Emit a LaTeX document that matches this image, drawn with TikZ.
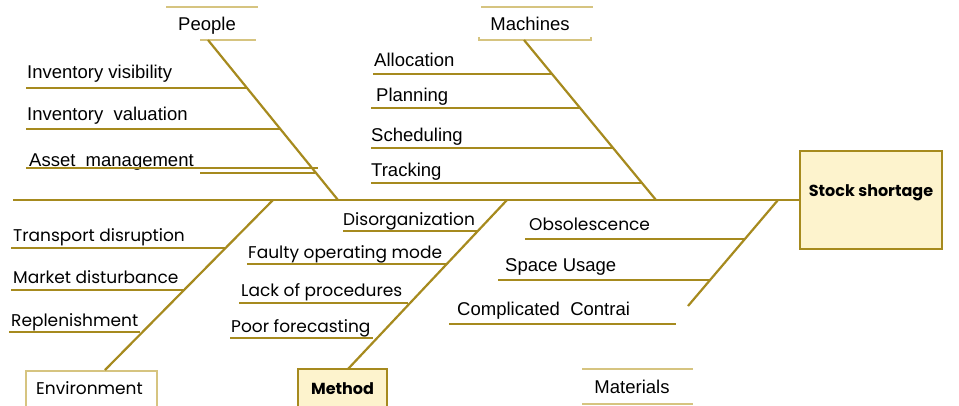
\documentclass[tikz,border=0pt]{standalone}
\usepackage{fontspec}
\setmainfont{Liberation Sans}
\newfontfamily\gothic{Poppins}
\usetikzlibrary{positioning}

\definecolor{bonecol}{RGB}{166,138,30}
\definecolor{paleline}{RGB}{214,196,128}
\definecolor{boxfill}{RGB}{253,243,205}

\tikzset{
  bone/.style={draw=bonecol, line width=2.2pt},
  twigline/.style={draw=bonecol, line width=1.6pt},
  capline/.style={draw=paleline, line width=1.6pt},
  arialtxt/.style={font=\fontsize{18.5}{20}\selectfont, inner sep=0pt},
  gothtxt/.style={font=\gothic\fontsize{17}{20}\selectfont, inner sep=0pt},
  headbox/.style={draw=bonecol, line width=1.4pt, fill=boxfill, inner sep=0pt},
}

% name, text x, baseline, line x, line y, line end x, text
\newcommand{\twig}[8][arialtxt]{%
  \node[#1, anchor=base west] (#2) at (#3,#4) {#8};
  \coordinate (#2-l) at (#5,#6);
  \coordinate (#2-r) at (#7,#6);
  \draw[twigline] (#2-l) -- (#2-r);
}

\begin{document}
\begin{tikzpicture}[x=1pt, y=-1pt]
  \useasboundingbox (0,0) rectangle (959,405);

  % head and categories
  \node[headbox, font=\gothic\bfseries\fontsize{16}{18}\selectfont,
        minimum width=142pt, minimum height=98pt,
        text height=13pt, text depth=20pt] (effect) at (871,200) {Stock shortage};
  \node[arialtxt, anchor=base] (people) at (207,30) {People};
  \node[arialtxt, anchor=base] (machines) at (530,30) {Machines};
  \node[gothtxt, anchor=base] (environment) at (89.5,394) {Environment};
  \node[headbox, font=\gothic\bfseries\fontsize{16}{18}\selectfont,
        minimum width=89pt, minimum height=40pt] (method) at (342.5,389) {Method};
  \node[arialtxt, anchor=base] (materials) at (632,393) {Materials};

  \draw[capline] (166,7) -- (258,7) (200,40) -- (256,40);
  \draw[capline] (481,7) -- (593,7) (479,37) -- (479,40) -- (591,40) -- (591,37);
  \draw[capline] (26,410) -- (26,371) -- (157,371) -- (157,410);
  \draw[capline] (582,369) -- (693,369) (582,404) -- (693,404);

  % spine and bones
  \coordinate (tail) at (13,200);
  \coordinate (people-a) at (208,40);
  \coordinate (people-b) at (338,200);
  \coordinate (machines-a) at (524,40);
  \coordinate (machines-b) at (656,200);
  \coordinate (environment-a) at (105,370);
  \coordinate (environment-b) at (273,200);
  \coordinate (method-a) at (348,369);
  \coordinate (method-b) at (507,200);
  \coordinate (materials-a) at (688,306);
  \coordinate (materials-b) at (778,200);

  \draw[bone] (tail) -- (effect);
  \draw[bone]
    (people-a) -- (people-b)
    (machines-a) -- (machines-b)
    (environment-a) -- (environment-b)
    (method-a) -- (method-b)
    (materials-a) -- (materials-b)
    ;

  % causes
  \twig{invvis}{27}{78}{26}{88}{247}{Inventory visibility}
  \twig{invval}{27}{120}{26}{129}{280}{Inventory\ \ valuation}
  \twig{asset}{29}{166}{26}{168}{318}{Asset\ \ management}
  \coordinate (asset-l2) at (200,173);
  \coordinate (asset-r2) at (315,173);
  \draw[twigline] (asset-l2) -- (asset-r2);

  \twig{alloc}{374}{66}{373}{74}{552}{Allocation}
  \twig{plan}{376}{101}{371}{108}{580}{Planning}
  \twig{sched}{371}{141}{371}{148}{613}{Scheduling}
  \twig{track}{371}{176}{371}{183}{642}{Tracking}

  \twig[gothtxt]{transp}{13}{241}{11}{248}{226}{Transport disruption}
  \twig[gothtxt]{market}{13}{283}{11}{290}{184}{Market disturbance}
  \twig[gothtxt]{replen}{11}{326}{9}{332}{140}{Replenishment}

  \twig[gothtxt]{disorg}{343}{225}{343}{231}{478}{Disorganization}
  \twig[gothtxt]{faulty}{248}{258}{247}{264}{447}{Faulty operating mode}
  \twig[gothtxt]{lack}{241}{296}{239}{303}{408}{Lack of procedures}
  \twig[gothtxt]{poor}{231}{332}{230}{338}{373}{Poor forecasting}

  \twig[gothtxt]{obsol}{529}{230}{525}{239}{745}{Obsolescence}
  \twig{space}{505}{271}{498}{280}{710}{Space Usage}
  \twig{compl}{457}{315}{449}{324}{676}{Complicated\ \ Contrai}
\end{tikzpicture}
\end{document}
